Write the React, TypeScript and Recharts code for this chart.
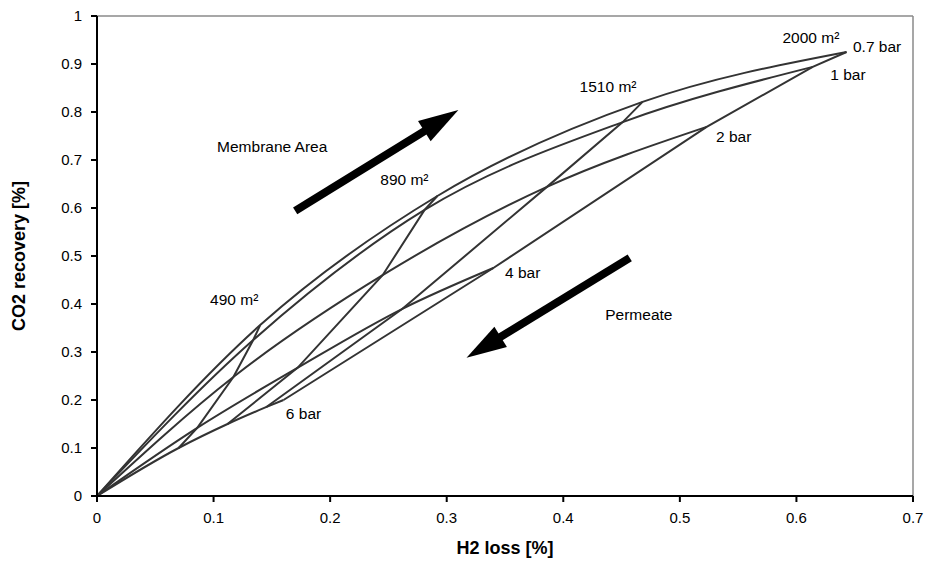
import React from "react";
import { LineChart, Line, XAxis, YAxis, ReferenceLine, ReferenceDot, Label } from "recharts";

const FONT = "'Liberation Sans', Arial, Helvetica, sans-serif";
const INK = "#333333";

// points along each permeate-pressure curve, first point is the origin,
// then 490, 890, 1510 and 2000 m² membrane area
const areaNames = ["490 m²", "890 m²", "1510 m²", "2000 m²"];
const pressureNames = ["0.7 bar", "1 bar", "2 bar", "4 bar", "6 bar"];

const h2Loss07 = [0, 0.14, 0.292, 0.468, 0.643];
const co2Rec07 = [0, 0.356, 0.625, 0.821, 0.925];
const h2Loss1 = [0, 0.134, 0.281, 0.451, 0.614];
const co2Rec1 = [0, 0.325, 0.596, 0.779, 0.894];
const h2Loss2 = [0, 0.117, 0.245, 0.386, 0.523];
const co2Rec2 = [0, 0.248, 0.46, 0.644, 0.769];
const h2Loss4 = [0, 0.086, 0.172, 0.262, 0.34];
const co2Rec4 = [0, 0.142, 0.267, 0.39, 0.475];
const h2Loss6 = [0, 0.07, 0.112, 0.145, 0.16];
const co2Rec6 = [0, 0.1, 0.15, 0.185, 0.2];

const xTicks = [0, 0.1, 0.2, 0.3, 0.4, 0.5, 0.6, 0.7];
const yTicks = [0, 0.1, 0.2, 0.3, 0.4, 0.5, 0.6, 0.7, 0.8, 0.9, 1];

const pressureSeries = [
  { name: pressureNames[0], x: h2Loss07, y: co2Rec07 },
  { name: pressureNames[1], x: h2Loss1, y: co2Rec1 },
  { name: pressureNames[2], x: h2Loss2, y: co2Rec2 },
  { name: pressureNames[3], x: h2Loss4, y: co2Rec4 },
  { name: pressureNames[4], x: h2Loss6, y: co2Rec6 },
].map((s) => ({ name: s.name, points: s.x.map((x, i) => ({ x, y: s.y[i] })) }));

// iso-area lines join the same area across the pressures
const areaSeries = areaNames.map((name, i) => ({
  name,
  points: pressureSeries.map((s) => s.points[i + 1]),
}));

// text placed in data coords (left end of the baseline)
const notes = [
  { text: "490 m²", x: 0.097, y: 0.398 },
  { text: "890 m²", x: 0.243, y: 0.648 },
  { text: "1510 m²", x: 0.414, y: 0.842 },
  { text: "2000 m²", x: 0.588, y: 0.944 },
  { text: "0.7 bar", x: 0.6485, y: 0.925 },
  { text: "1 bar", x: 0.629, y: 0.867 },
  { text: "2 bar", x: 0.531, y: 0.7375 },
  { text: "4 bar", x: 0.35, y: 0.454 },
  { text: "6 bar", x: 0.162, y: 0.16 },
  { text: "Membrane Area", x: 0.103, y: 0.717 },
  { text: "Permeate", x: 0.436, y: 0.367 },
];

const arrows = [
  { from: { x: 0.17, y: 0.594 }, to: { x: 0.31, y: 0.804 } },
  { from: { x: 0.457, y: 0.496 }, to: { x: 0.317, y: 0.288 } },
];

function Arrow(props: any) {
  const { x1, y1, x2, y2 } = props;
  const dx = x2 - x1;
  const dy = y2 - y1;
  const len = Math.sqrt(dx * dx + dy * dy) || 1;
  const ux = dx / len;
  const uy = dy / len;
  const head = 40;
  const half = 12;
  const bx = x2 - ux * head;
  const by = y2 - uy * head;
  const pts = [
    [x2, y2],
    [bx - uy * half, by + ux * half],
    [bx + uy * half, by - ux * half],
  ]
    .map((p) => p.join(","))
    .join(" ");
  return (
    <g>
      <line x1={x1} y1={y1} x2={bx + ux * 2} y2={by + uy * 2} stroke="#000" strokeWidth={8} />
      <polygon points={pts} fill="#000" />
    </g>
  );
}

const fmt = (v: number) => String(Number(v.toFixed(1)));

export default function App() {
  return (
    <div style={{ position: "absolute", left: 0, top: 0, background: "#fff" }}>
      <LineChart width={933} height={574} margin={{ top: 16, right: 20, bottom: 0, left: 0 }}>
        <XAxis
          type="number"
          dataKey="x"
          domain={[0, 0.7]}
          ticks={xTicks}
          tickFormatter={fmt}
          allowDataOverflow
          height={78}
          tickSize={6}
          tickMargin={10}
          axisLine={{ stroke: "#000", strokeWidth: 2 }}
          tickLine={{ stroke: "#000", strokeWidth: 2 }}
          tick={{ fill: "#000", fontSize: 15, fontFamily: FONT }}
        >
          <Label
            content={(p: any) => {
              const vb = p.viewBox || {};
              return (
                <text
                  x={vb.x + vb.width / 2}
                  y={vb.y + 58}
                  textAnchor="middle"
                  fontFamily={FONT}
                  fontWeight="bold"
                  fontSize={18}
                  fill="#000"
                >
                  H2 loss [%]
                </text>
              );
            }}
          />
        </XAxis>
        <YAxis
          type="number"
          dataKey="y"
          domain={[0, 1]}
          ticks={yTicks}
          tickFormatter={fmt}
          allowDataOverflow
          width={97}
          tickSize={6}
          tickMargin={9}
          axisLine={{ stroke: "#000", strokeWidth: 2 }}
          tickLine={{ stroke: "#000", strokeWidth: 2 }}
          tick={{ fill: "#000", fontSize: 15, fontFamily: FONT }}
        >
          <Label
            content={(p: any) => {
              const vb = p.viewBox || {};
              const cy = vb.y + vb.height / 2;
              return (
                <text
                  x={25}
                  y={cy}
                  transform={`rotate(-90, 25, ${cy})`}
                  textAnchor="middle"
                  fontFamily={FONT}
                  fontWeight="bold"
                  fontSize={18}
                  fill="#000"
                >
                  CO2 recovery [%]
                </text>
              );
            }}
          />
        </YAxis>

        <ReferenceLine y={1} stroke="#8a8a8a" strokeWidth={1.5} />
        <ReferenceLine x={0.7} stroke="#8a8a8a" strokeWidth={1.5} />

        {pressureSeries.map((s) => (
          <Line
            key={s.name}
            data={s.points}
            dataKey="y"
            type="monotone"
            stroke={INK}
            strokeWidth={2}
            dot={false}
            activeDot={false}
            isAnimationActive={false}
          />
        ))}
        {areaSeries.map((s) => (
          <Line
            key={s.name}
            data={s.points}
            dataKey="y"
            type="linear"
            stroke={INK}
            strokeWidth={2}
            dot={false}
            activeDot={false}
            isAnimationActive={false}
          />
        ))}

        {arrows.map((a, i) => (
          <ReferenceLine key={"arrow" + i} segment={[a.from, a.to]} shape={Arrow} />
        ))}

        {notes.map((n) => (
          <ReferenceDot
            key={n.text}
            x={n.x}
            y={n.y}
            r={0}
            ifOverflow="visible"
            shape={(p: any) => (
              <text x={p.cx} y={p.cy} fontFamily={FONT} fontSize={15.5} fill="#000">
                {n.text}
              </text>
            )}
          />
        ))}
      </LineChart>
    </div>
  );
}
